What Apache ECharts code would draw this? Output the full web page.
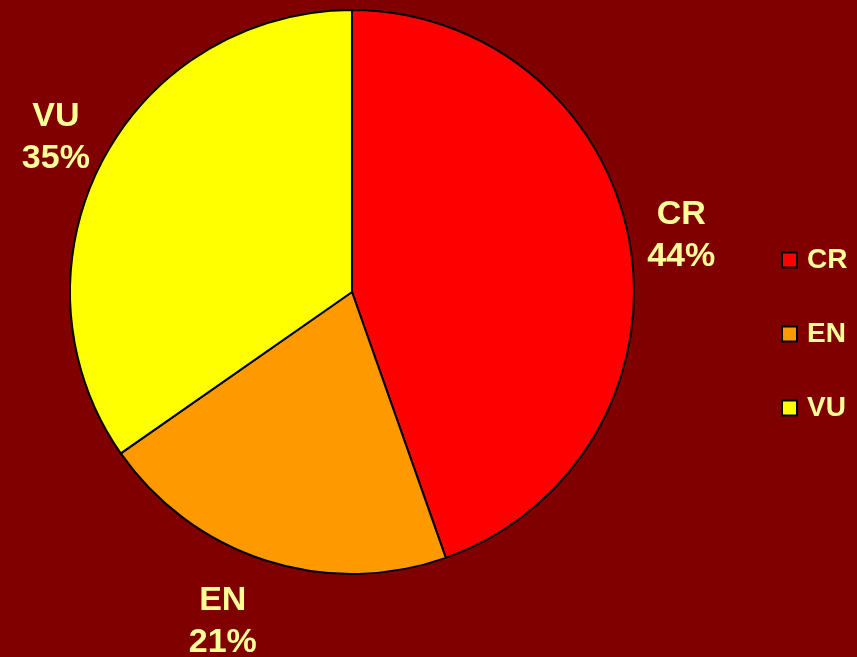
<!DOCTYPE html>
<html>
<head>
<meta charset="utf-8">
<script src="https://cdn.jsdelivr.net/npm/echarts@6/dist/echarts.min.js"></script>
<style>
html,body{margin:0;padding:0;background:#800000;}
#c{width:857px;height:657px;}
</style>
</head>
<body>
<div id="c"></div>
<script>
const categories = ['CR', 'EN', 'VU'];
const values = [44.6, 20.7, 34.7];
const colors = ['#FF0000', '#FF9900', '#FFFF00'];

const chart = echarts.init(document.getElementById('c'), null, {renderer: 'canvas'});
const pieData = categories.map((n, i) => ({name: n, value: values[i], itemStyle: {color: colors[i]}}));
const labelData = categories.map((n, i) => ({name: n, value: values[i]}));
const txt = '#FFFF99';
const font = '"Liberation Sans", Arial, sans-serif';

chart.setOption({
  backgroundColor: '#800000',
  animation: false,
  legend: {
    orient: 'vertical',
    left: 781,
    top: 245,
    padding: 0,
    itemWidth: 15,
    itemHeight: 15,
    itemGap: 44,
    icon: 'rect',
    data: categories,
    itemStyle: {borderColor: '#000', borderWidth: 2},
    textStyle: {color: txt, fontSize: 28, fontWeight: 'bold', fontFamily: font, lineHeight: 30, padding: [0, 0, 0, 5]}
  },
  series: [
    {
      type: 'pie',
      center: [352, 292],
      radius: [0, 282],
      startAngle: 90,
      clockwise: true,
      silent: true,
      label: {show: false},
      labelLine: {show: false},
      itemStyle: {borderColor: '#000', borderWidth: 2},
      data: pieData
    },
    {
      type: 'pie',
      name: 'labels',
      center: [352, 292],
      radius: [296, 366],
      startAngle: 90,
      clockwise: true,
      silent: true,
      percentPrecision: 0,
      legendHoverLink: false,
      itemStyle: {color: 'rgba(0,0,0,0)', borderWidth: 0},
      label: {
        show: true,
        position: 'inside',
        formatter: '{b}\n{d}%',
        color: txt,
        fontSize: 34,
        fontWeight: 'bold',
        fontFamily: font,
        lineHeight: 42,
        align: 'center'
      },
      labelLine: {show: false},
      labelLayout: function (p) { return p.dataIndex === 1 ? {dx: -27, dy: 12} : {}; },
      data: labelData
    }
  ]
});
</script>
</body>
</html>
